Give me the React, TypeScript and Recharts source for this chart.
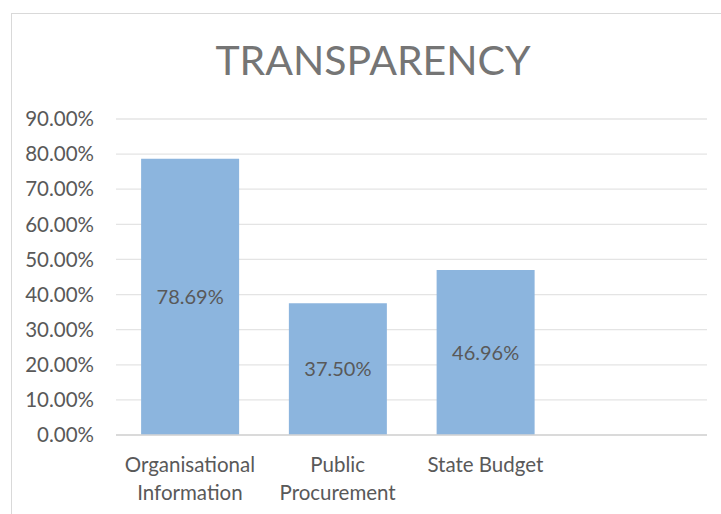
import React from "react";
import { BarChart, Bar, XAxis, YAxis, CartesianGrid, LabelList } from "recharts";

const categories = ["Organisational Information", "Public Procurement", "State Budget", ""];
const values: (number | null)[] = [78.69, 37.5, 46.96, null];
const yTicks = [0, 10, 20, 30, 40, 50, 60, 70, 80, 90];

const data = categories.map((name, i) => ({ name, value: values[i] }));

const FONT = "Lato, 'Open Sans', sans-serif";
const TEXT = "#595959";
const MAX_CHARS = 14;

function wrap(s: string): string[] {
  const words = s.split(" ");
  const lines: string[] = [];
  let cur = "";
  for (const w of words) {
    const next = cur ? cur + " " + w : w;
    if (next.length > MAX_CHARS && cur) {
      lines.push(cur);
      cur = w;
    } else {
      cur = next;
    }
  }
  if (cur) lines.push(cur);
  return lines;
}

const CatTick = (props: any) => {
  const { x, y, payload } = props;
  if (!payload.value) return null;
  const lines = wrap(String(payload.value));
  return (
    <text x={x} y={y + 29} textAnchor="middle" fontFamily={FONT} fontSize={20.5} fill={TEXT}>
      {lines.map((l, i) => (
        <tspan key={i} x={x} dy={i === 0 ? 0 : 27.5}>
          {l}
        </tspan>
      ))}
    </text>
  );
};

export default function App() {
  return (
    <div style={{ position: "absolute", left: 0, top: 0, width: 721, height: 514, background: "#fff", overflow: "hidden" }}>
      <div style={{ position: "absolute", left: 11, top: 13, width: 740, height: 540, border: "1.5px solid #d9d9d9", boxSizing: "border-box" }} />
      <div
        style={{
          position: "absolute",
          left: 0,
          width: 746,
          top: 32,
          textAlign: "center",
          fontFamily: FONT,
          fontSize: 41,
          color: "#757575",
          lineHeight: "56px",
        }}
      >
        TRANSPARENCY
      </div>
      <div style={{ position: "absolute", left: 0, top: 0 }}>
        <BarChart
          width={721}
          height={514}
          data={data}
          margin={{ top: 119, right: 14, bottom: 0, left: 0 }}
          barCategoryGap="17%"
        >
          <CartesianGrid vertical={false} stroke="#e4e4e4" strokeWidth={1.3} />
          <YAxis
            width={116}
            domain={[0, 90]}
            ticks={yTicks}
            interval={0}
            axisLine={false}
            tickLine={false}
            tickMargin={16}
            tickFormatter={(v: number) => `${v.toFixed(2)}%`}
            tick={{ fill: TEXT, fontSize: 20.5, fontFamily: FONT }}
          />
          <XAxis
            dataKey="name"
            height={79}
            interval={0}
            axisLine={{ stroke: "#d4d4d4", strokeWidth: 1.5 }}
            tickLine={false}
            tick={<CatTick />}
          />
          <Bar dataKey="value" fill="#8cb5de" isAnimationActive={false}>
            <LabelList
              dataKey="value"
              position="center"
              formatter={(v: any) => (v == null ? "" : `${Number(v).toFixed(2)}%`)}
              fill={TEXT}
              fontSize={20}
              fontFamily={FONT}
            />
          </Bar>
        </BarChart>
      </div>
    </div>
  );
}
